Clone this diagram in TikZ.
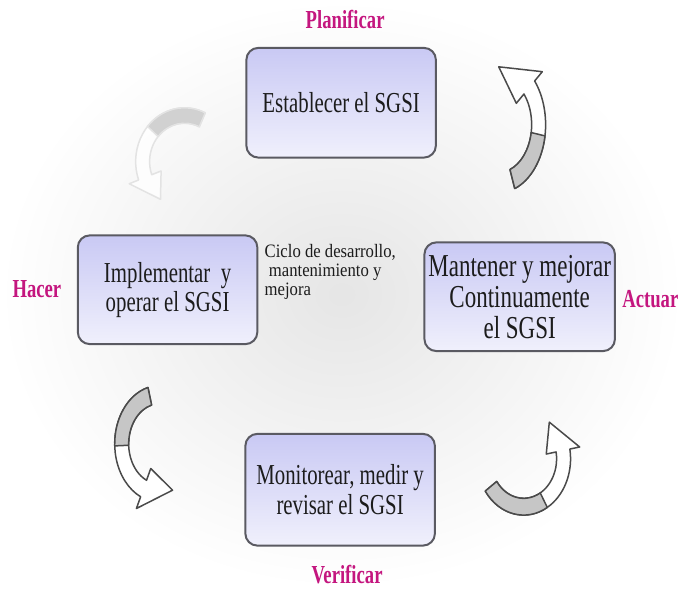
\documentclass[tikz,border=0pt]{standalone}
\usepackage{fontspec}
\setmainfont{Liberation Serif}
\newfontfamily\narrowserif[FakeStretch=0.72]{Liberation Serif}
\newfontfamily\midserif[FakeStretch=0.88]{Liberation Serif}
\definecolor{pd-ink}{HTML}{1C1C1C}
\definecolor{pd-edge}{HTML}{5A5A62}
\definecolor{pd-top}{HTML}{C9C9F4}
\definecolor{pd-bot}{HTML}{F0F0FC}
\definecolor{pd-pink}{HTML}{C4167F}
\definecolor{pd-tail}{HTML}{C6C6C6}
\definecolor{pd-line}{HTML}{4A4A4A}

% curved block arrow round the origin: radius, tail, head base, tip angle, style
\newcommand{\cyclearrow}[5]{%
  \pgfmathsetmacro{\arrRo}{#1+7}\pgfmathsetmacro{\arrRi}{#1-7}%
  \pgfmathsetmacro{\arrHo}{#1+17}\pgfmathsetmacro{\arrHi}{#1-17}%
  \pgfmathsetmacro{\arrMid}{#2+0.55*(#3-#2)}%
  \draw[#5,fill=white] (#2:\arrRo) arc[start angle=#2,end angle=#3,radius=\arrRo]
    -- (#3:\arrHo) -- (#4:#1) -- (#3:\arrHi) -- (#3:\arrRi)
    arc[start angle=#3,end angle=#2,radius=\arrRi] -- cycle;
  \draw[#5,fill=pd-tail] (#2:\arrRo) arc[start angle=#2,end angle=\arrMid,radius=\arrRo]
    -- (\arrMid:\arrRi) arc[start angle=\arrMid,end angle=#2,radius=\arrRi] -- cycle;
}

\begin{document}
\begin{tikzpicture}[x=0.5pt,y=0.5pt,
  box/.style={draw=pd-edge,line width=1pt,rounded corners=6pt,
    top color=pd-top,bottom color=pd-bot,minimum width=95pt,minimum height=55pt,
    align=center,text=pd-ink,inner sep=2pt,
    font=\narrowserif\fontsize{14.5}{14.5}\selectfont},
  phase/.style={text=pd-pink,font=\narrowserif\bfseries\fontsize{13}{15}\selectfont},
  arrline/.style={draw=pd-line,line width=0.75pt,line join=round}]

% ============ BACKGROUND ============
\shade[inner color=gray!20,outer color=white] (0,0) rectangle (685,590);

% ============ CYCLE ARROWS ============
\begin{scope}[shift={(185,428)},yscale=1.1]   % top left, faded
  \cyclearrow{42}{65}{200}{235}{arrline,draw=gray!22,fill opacity=0.8}
\end{scope}
\begin{scope}[shift={(160,145)},yscale=1.3]   % bottom left
  \cyclearrow{38}{105}{245}{290}{arrline}
\end{scope}
\begin{scope}[shift={(525,130)},yscale=1.2]   % bottom right
  \cyclearrow{40}{215}{370}{410}{arrline}
\end{scope}
\begin{scope}[shift={(500,465)},yscale=1.45]  % top right
  \cyclearrow{40}{-70}{40}{90}{arrline}
\end{scope}

% ============ STAGES ============
\node[box] (est) at (342,487) {Establecer el SGSI};
\node[box,minimum width=90pt,minimum height=54.5pt] (impl) at (168,299.5)
     {Implementar\ \ y\\operar el SGSI};
\node[box,minimum height=54.5pt,font=\narrowserif\fontsize{16}{15.5}\selectfont]
     (mant) at (521,292.5) {Mantener y mejorar\\Continuamente\\el SGSI};
\node[box,minimum height=56pt,font=\narrowserif\fontsize{14.5}{15}\selectfont]
     (mon) at (341,99) {Monitorear, medir y\\revisar el SGSI};

\node[anchor=north west,inner sep=0pt,align=left,text=pd-ink,
      font=\midserif\fontsize{9.5}{9.5}\selectfont] (ciclo) at (265,345)
     {Ciclo de desarrollo,\\\ mantenimiento y\\mejora};

% ============ PHASE LABELS ============
\node[phase] (plan)   at (346,570) {Planificar};
\node[phase] (hacer)  at (37,300)  {Hacer};
\node[phase] (actuar) at (652,290) {Actuar};
\node[phase] (verif)  at (348,14)  {Verificar};

\end{tikzpicture}
\end{document}
